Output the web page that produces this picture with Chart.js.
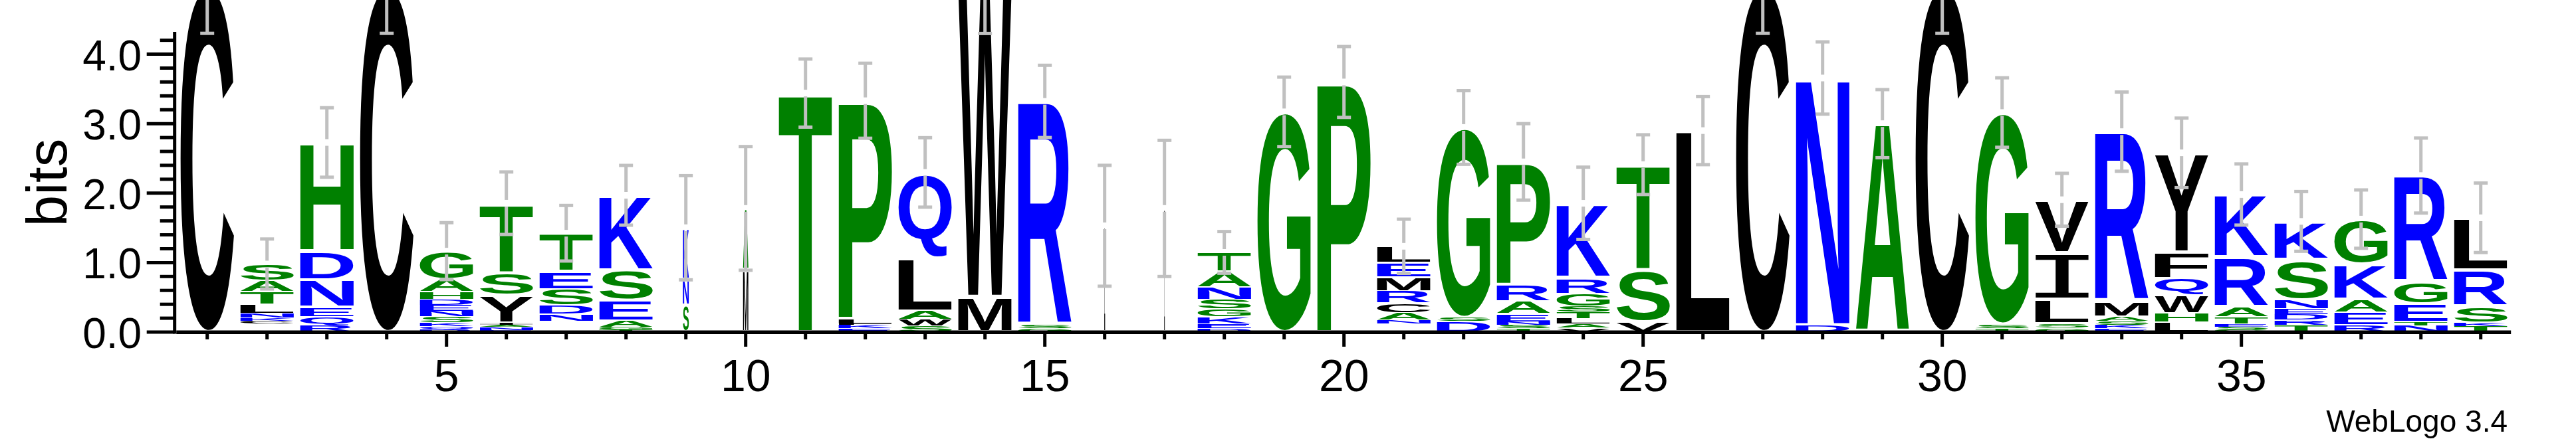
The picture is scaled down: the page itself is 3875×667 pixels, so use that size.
<!DOCTYPE html>
<html>
<head>
<meta charset="utf-8">
<title>Sequence logo</title>
<script src="https://cdn.jsdelivr.net/npm/chart.js@4.4.0/dist/chart.umd.min.js"></script>
<style>
  html, body { margin: 0; padding: 0; background: #ffffff; }
  canvas { display: block; }
</style>
</head>
<body>
<canvas id="logoChart" width="3875" height="667"></canvas>
<script>
// positions along the alignment
var positions = [1, 2, 3, 4, 5, 6, 7, 8, 9, 10, 11, 12, 13, 14, 15, 16, 17, 18, 19, 20,
                 21, 22, 23, 24, 25, 26, 27, 28, 29, 30, 31, 32, 33, 34, 35, 36, 37, 38, 39];

// letters of each stack, bottom to top (" " = small letters too thin to read)
var stackLetters = [
  "C", " CKNLTAS", "RQENDH", "C", "RQKSNEDHAG", "ENAIYST", " NDSET", "TGAESK", "SNK", "MA",
  "T", "EKFLP", "SWALQ", "MW", "GSR", "L", "I", "DEKGSNAT", "G", "P",
  " NACRMEL", "DSG", "TSNEARP", "VALTSGRK", "VST", "L", "C", "DN", "A", "C",
  "TSG", "GSLIV", "EKSAMR", "LHWQFY", "GSETARK", "TRDENSK", "REAKG", "NTEGR", "TKSRL"
];

// height of each letter in bits, same order as stackLetters
var stackBits = [
  [4.96],
  [0.12, 0.04, 0.045, 0.065, 0.13, 0.18, 0.16, 0.24],
  [0.09, 0.134, 0.13, 0.40, 0.41, 1.565],
  [4.96],
  [0.04, 0.04, 0.06, 0.08, 0.08, 0.09, 0.08, 0.11, 0.175, 0.41],
  [0.03, 0.04, 0.03, 0.03, 0.40, 0.325, 1.0],
  [0.16, 0.10, 0.12, 0.236, 0.25, 0.557],
  [0.035, 0.035, 0.09, 0.297, 0.435, 1.077],
  [0.386, 0.366, 0.75],
  [0.89, 0.89],
  [3.44],
  [0.05, 0.05, 0.02, 0.07, 3.14],
  [0.09, 0.09, 0.12, 0.77, 1.228],
  [0.508, 4.45],
  [0.05, 0.05, 3.22],
  [1.53],
  [1.78],
  [0.05, 0.07, 0.10, 0.114, 0.138, 0.175, 0.224, 0.276],
  [3.17],
  [3.6],
  [0.12, 0.05, 0.11, 0.134, 0.18, 0.195, 0.21, 0.236],
  [0.155, 0.05, 2.74],
  [0.05, 0.05, 0.05, 0.114, 0.18, 0.236, 1.77],
  [0.06, 0.06, 0.08, 0.09, 0.08, 0.183, 0.228, 1.073],
  [0.142, 0.752, 1.516],
  [2.9],
  [4.96],
  [0.1, 3.557],
  [3.0],
  [4.96],
  [0.05, 0.06, 3.05],
  [0.06, 0.06, 0.345, 0.67, 0.77],
  [0.05, 0.05, 0.06, 0.07, 0.215, 2.44],
  [0.142, 0.13, 0.256, 0.244, 0.378, 1.43],
  [0.037, 0.04, 0.045, 0.094, 0.138, 0.724, 0.902],
  [0.1, 0.073, 0.08, 0.08, 0.13, 0.577, 0.553],
  [0.1, 0.183, 0.183, 0.51, 0.65],
  [0.093, 0.057, 0.256, 0.317, 1.53],
  [0.08, 0.053, 0.232, 0.528, 0.752]
];

// half length of the error bar at each stack top (bits)
var errorBits = [0.66, 0.36, 0.5, 0.66, 0.41, 0.45, 0.4, 0.43, 0.75, 0.89,
                 0.49, 0.54, 0.5, 0.66, 0.52, 0.87, 0.98, 0.3, 0.5, 0.51,
                 0.39, 0.53, 0.55, 0.52, 0.43, 0.49, 0.66, 0.52, 0.49, 0.66,
                 0.5, 0.38, 0.57, 0.5, 0.44, 0.43, 0.42, 0.54, 0.5];

// fraction of sequences without a gap (stack width)
var occupancy = [1, 1, 1, 1, 1, 1, 1, 1, 0.11, 0.1,
                 1, 1, 1, 1, 1, 0.015, 0.012, 1, 1, 1,
                 1, 1, 1, 1, 1, 1, 1, 1, 1, 1,
                 1, 1, 1, 1, 1, 1, 1, 1, 1];

// axis ticks
var yMajorTicks = [0, 1, 2, 3, 4];
var yTickLabels = ["0.0", "1.0", "2.0", "3.0", "4.0"];
var xLabelPositions = [5, 10, 15, 20, 25, 30, 35];
var yMaxBits = 4.3219;

// hydrophobicity colour scheme
var colorGroups = [
  { letters: "RKDENQ", color: "#0000ff" },
  { letters: "SGHTAP", color: "#008000" },
  { letters: "YVMCLFIW", color: "#000000" }
];

function letterColor(ch) {
  for (var g = 0; g < colorGroups.length; g++) {
    if (colorGroups[g].letters.indexOf(ch) >= 0) return colorGroups[g].color;
  }
  return "#000000";
}

var labelFont = '"Liberation Sans", Arial, Helvetica, sans-serif';

// squeeze one glyph into the box of its bar
function drawLetter(ctx, ch, left, top, w, h) {
  var inset = Math.min(3, h * 0.06);
  top += inset;
  h -= 2 * inset;
  if (h <= 0 || w <= 0) return;
  ctx.save();
  // the logo's I has thin bars top and bottom, so take it from a font that has them
  ctx.font = ch === "I" ? '200px "DejaVu Sans Mono", monospace' : 'bold 200px ' + labelFont;
  ctx.textAlign = "left";
  ctx.textBaseline = "alphabetic";
  var m = ctx.measureText(ch);
  var gw = m.actualBoundingBoxLeft + m.actualBoundingBoxRight;
  var gh = m.actualBoundingBoxAscent + m.actualBoundingBoxDescent;
  ctx.translate(left, top);
  ctx.scale(w / gw, h / gh);
  ctx.fillStyle = letterColor(ch);
  ctx.fillText(ch, m.actualBoundingBoxLeft, m.actualBoundingBoxAscent);
  ctx.restore();
}

function line(ctx, x1, y1, x2, y2) {
  ctx.beginPath();
  ctx.moveTo(x1, y1);
  ctx.lineTo(x2, y2);
  ctx.stroke();
}

var logoPlugin = {
  id: "logoPlugin",
  afterDatasetsDraw: function(chart) {
    var ctx = chart.ctx;
    var yScale = chart.scales.y;
    var xScale = chart.scales.x;

    // letters
    chart.data.datasets.forEach(function(ds, k) {
      var meta = chart.getDatasetMeta(k);
      meta.data.forEach(function(bar, i) {
        var ch = stackLetters[i].charAt(k);
        if (!ch || ch === " " || stackBits[i][k] == null) return;
        var p = bar.getProps(["x", "y", "base", "width"], true);
        var w = p.width * occupancy[i];
        drawLetter(ctx, ch, p.x - w / 2, p.y, w, p.base - p.y);
      });
    });

    // error bars, centred on the stack top with a small gap
    ctx.save();
    ctx.strokeStyle = "#c0c0c0";
    ctx.lineWidth = 5;
    positions.forEach(function(pos, i) {
      var total = stackBits[i].reduce(function(a, b) { return a + b; }, 0);
      var cx = xScale.getPixelForValue(i);
      var cy = yScale.getPixelForValue(total);
      var hi = yScale.getPixelForValue(total + errorBits[i]);
      var lo = yScale.getPixelForValue(total - errorBits[i]);
      var gap = 5;
      line(ctx, cx, cy - gap, cx, hi);
      line(ctx, cx - 10.5, hi, cx + 10.5, hi);
      line(ctx, cx, cy + gap, cx, lo);
      line(ctx, cx - 10.5, lo, cx + 10.5, lo);
    });
    ctx.restore();
  },
  afterDraw: function(chart) {
    var ctx = chart.ctx;
    var area = chart.chartArea;
    var yScale = chart.scales.y;
    var xScale = chart.scales.x;
    var axisX = area.left - 4;
    var zeroY = yScale.getPixelForValue(0);

    ctx.save();
    ctx.strokeStyle = "#000000";
    ctx.fillStyle = "#000000";
    ctx.lineWidth = 5;

    // y axis and its ticks
    line(ctx, axisX, yScale.getPixelForValue(yMaxBits), axisX, zeroY + 2.5);
    for (var v = 0; v <= yMaxBits + 1e-9; v += 0.2) {
      var ty = yScale.getPixelForValue(v);
      var major = Math.abs(v - Math.round(v)) < 1e-6;
      line(ctx, major ? axisX - 42 : axisX - 22, ty, axisX, ty);
    }
    ctx.font = "64px " + labelFont;
    ctx.textAlign = "right";
    ctx.textBaseline = "alphabetic";
    yMajorTicks.forEach(function(v, j) {
      ctx.fillText(yTickLabels[j], axisX - 49.5, yScale.getPixelForValue(v) + 24);
    });

    // x axis and its ticks
    ctx.lineWidth = 5.5;
    line(ctx, area.left - 1.5, zeroY + 0.3, area.right + 0.5, zeroY + 0.3);
    ctx.lineWidth = 5;
    positions.forEach(function(pos, i) {
      var tx = xScale.getPixelForValue(i);
      var major = xLabelPositions.indexOf(pos) >= 0;
      line(ctx, tx, zeroY, tx, zeroY + (major ? 22 : 11));
    });
    ctx.font = "68px " + labelFont;
    ctx.textAlign = "center";
    xLabelPositions.forEach(function(pos) {
      ctx.fillText(String(pos), xScale.getPixelForValue(positions.indexOf(pos)), 589);
    });

    // axis title
    ctx.save();
    ctx.font = "85px " + labelFont;
    ctx.translate(100, 275);
    ctx.rotate(-Math.PI / 2);
    ctx.textAlign = "center";
    ctx.fillText("bits", 0, 0);
    ctx.restore();

    // footer
    ctx.font = "46px " + labelFont;
    ctx.textAlign = "right";
    ctx.fillText("WebLogo 3.4", 3772, 650);
    ctx.restore();
  }
};

// one stacked dataset per layer of the stacks
var maxLayers = 0;
stackBits.forEach(function(s) { maxLayers = Math.max(maxLayers, s.length); });
var datasets = [];
for (var k = 0; k < maxLayers; k++) {
  datasets.push({
    label: "layer " + (k + 1),
    data: stackBits.map(function(s) { return s[k] == null ? null : s[k]; }),
    backgroundColor: "rgba(0,0,0,0)",
    borderWidth: 0,
    categoryPercentage: 0.893,
    barPercentage: 1
  });
}

var canvas = document.getElementById("logoChart");
var ctx = canvas.getContext("2d");
var logoChart = new Chart(ctx, {
  type: "bar",
  data: {
    labels: positions.map(String),
    datasets: datasets
  },
  options: {
    responsive: false,
    animation: false,
    devicePixelRatio: 1,
    events: [],
    layout: { padding: { left: 266.7, right: 98.3, top: 47.9, bottom: 167 } },
    plugins: {
      legend: { display: false },
      tooltip: { enabled: false }
    },
    scales: {
      x: { type: "category", offset: true, stacked: true, display: false },
      y: { type: "linear", min: 0, max: yMaxBits, stacked: true, display: false }
    }
  },
  plugins: [logoPlugin]
});
</script>
</body>
</html>
